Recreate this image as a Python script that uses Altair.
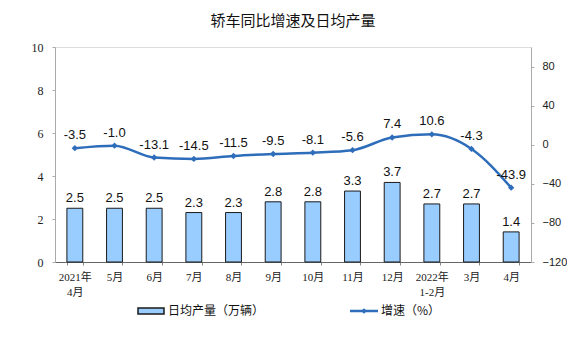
import altair as alt
import pandas as pd

months = ["2021年\n4月", "5月", "6月", "7月", "8月", "9月", "10月", "11月", "12月",
          "2022年\n1-2月", "3月", "4月"]
daily_output = [2.5, 2.5, 2.5, 2.3, 2.3, 2.8, 2.8, 3.3, 3.7, 2.7, 2.7, 1.4]
growth = [-3.5, -1.0, -13.1, -14.5, -11.5, -9.5, -8.1, -5.6, 7.4, 10.6, -4.3, -43.9]

df = pd.DataFrame({"month": months, "output": daily_output, "growth": growth})
df["output_lbl"] = df["output"].map(lambda v: f"{v:.1f}")
df["growth_lbl"] = df["growth"].map(lambda v: f"{v:.1f}")

W, H = 476, 215
BAR_C = "#99CCFF"
LINE_C = "#2E6DBA"

x_enc = alt.X("month:N", sort=months, title=None,
              scale=alt.Scale(paddingInner=0.6, paddingOuter=0.3),
              axis=alt.Axis(labelAngle=0, labelExpr="split(datum.label, '\\n')",
                            labelFont="Liberation Serif, Noto Sans CJK SC", labelFontSize=11,
                            labelColor="#222", domainColor="#666", tickColor="#888",
                            tickSize=3, tickBand="extent", labelPadding=6, labelLineHeight=15))

y_left = alt.Y("output:Q", title=None,
               scale=alt.Scale(domain=[0, 10]),
               axis=alt.Axis(values=[0, 2, 4, 6, 8, 10], grid=False, domainColor="#aaa",
                             tickColor="#aaa", tickSize=3, labelFont="Liberation Serif",
                             labelFontSize=12, labelColor="#222", labelPadding=9))

bars = alt.Chart(df).mark_bar(color=BAR_C, stroke="#1a1a1a", strokeWidth=1).encode(
    x=x_enc, y=y_left)
bar_text = alt.Chart(df).mark_text(dy=-10, font="Liberation Sans", fontSize=13, color="#111").encode(
    x=alt.X("month:N", sort=months), y=alt.Y("output:Q"), text="output_lbl:N")

y_right = alt.Y("growth:Q", title=None,
                scale=alt.Scale(domain=[-120, 100]),
                axis=alt.Axis(orient="right", values=[-120, -80, -40, 0, 40, 80], grid=False,
                              domainColor="#aaa", tickColor="#aaa", tickSize=3,
                              labelFont="Liberation Sans", labelFontSize=11, labelColor="#222",
                              labelPadding=8))

line = alt.Chart(df).mark_line(color=LINE_C, strokeWidth=2.5, interpolate="monotone").encode(
    x=alt.X("month:N", sort=months), y=y_right)
pts = alt.Chart(df).mark_point(shape="diamond", filled=True, color=LINE_C, size=40, opacity=1).encode(
    x=alt.X("month:N", sort=months), y=alt.Y("growth:Q"))
line_text = alt.Chart(df).mark_text(dy=-13, font="Liberation Sans", fontSize=13, color="#111").encode(
    x=alt.X("month:N", sort=months), y=alt.Y("growth:Q"), text="growth_lbl:N")

# manual legend
leg_df = pd.DataFrame({"k": [0]})
leg_bar = alt.Chart(leg_df).mark_rect(color=BAR_C, stroke="#1a1a1a", strokeWidth=1.5).encode(
    x=alt.value(83), x2=alt.value(109), y=alt.value(261), y2=alt.value(267))
leg_bar_t = alt.Chart(leg_df).mark_text(align="left", baseline="middle", font="Noto Sans CJK SC",
                                        fontSize=12, color="#111").encode(
    x=alt.value(113), y=alt.value(264), text=alt.value("日均产量（万辆）"))
leg_line = alt.Chart(leg_df).mark_rule(color=LINE_C, strokeWidth=2.5).encode(
    x=alt.value(295), x2=alt.value(323), y=alt.value(264))
leg_pt = alt.Chart(leg_df).mark_point(shape="diamond", filled=True, color=LINE_C, size=30, opacity=1).encode(
    x=alt.value(309), y=alt.value(264))
leg_line_t = alt.Chart(leg_df).mark_text(align="left", baseline="middle", font="Noto Sans CJK SC",
                                         fontSize=12, color="#111").encode(
    x=alt.value(326), y=alt.value(264), text=alt.value("增速（%）"))

left_layer = alt.layer(bars, bar_text)
right_layer = alt.layer(line, pts, line_text)

chart = alt.layer(left_layer, right_layer, leg_bar, leg_bar_t, leg_line, leg_pt, leg_line_t).resolve_scale(
    y="independent").properties(
    width=W, height=H,
    title=alt.Title("轿车同比增速及日均产量", font="Noto Sans CJK SC", fontSize=15,
                    fontWeight="normal", color="#111", anchor="middle", offset=12),
    autosize=alt.AutoSizeParams(type="none"),
    padding={"left": 47, "top": 39, "right": 36, "bottom": 72},
).configure_view(stroke=None).configure(background="white")

chart.save("out.html", embed_options={"renderer": "svg", "actions": False})
